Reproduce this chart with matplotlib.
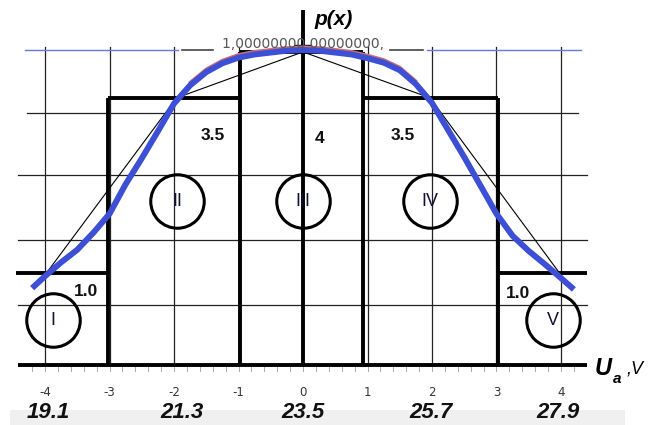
import numpy as np
import matplotlib.pyplot as plt

# bell curve (grid units)
curve_x = [-4.2, -4.0, -3.75, -3.5, -3.25, -3.0, -2.75, -2.5, -2.25, -2.0, -1.75, -1.5,
           -1.25, -1.0, -0.75, -0.5, -0.25, 0.0, 0.25, 0.5, 0.75, 1.0, 1.25, 1.5,
           1.75, 2.0, 2.25, 2.5, 2.75, 3.0, 3.25, 3.5, 3.75, 4.0, 4.2]
curve_y = [1.22, 1.41, 1.63, 1.83, 2.1, 2.4, 2.87, 3.28, 3.71, 4.15, 4.44, 4.65,
           4.79, 4.88, 4.93, 4.96, 4.99, 5.0, 4.99, 4.96, 4.93, 4.87, 4.8, 4.68,
           4.46, 4.16, 3.73, 3.3, 2.85, 2.4, 2.05, 1.81, 1.6, 1.38, 1.2]

# histogram
edges = [-4.45, -3.03, -0.97, 0.93, 3.03, 4.4]
heights = [1.46, 4.24, 4.97, 4.24, 1.46]
bar_text = ['1.0', '3.5', '4', '3.5', '1.0']

# frequency polygon
poly_x = [-3.97, -1.96, 0, 1.97, 3.97]
poly_y = [1.47, 4.24, 4.97, 4.24, 1.47]

# circled interval numbers
circ_x = [-3.88, -1.95, 0.0, 1.97, 3.88]
circ_y = [0.71, 2.6, 2.6, 2.6, 0.71]
circ_lab = ['I', 'II', 'III', 'IV', 'V']

ticks = [-4, -3, -2, -1, 0, 1, 2, 3, 4]
volts = ['19.1', '21.3', '23.5', '25.7', '27.9']
volt_x = [-3.95, -1.87, 0.0, 1.98, 3.95]

fig = plt.figure(figsize=(6.54, 4.25), dpi=100)
ax = fig.add_axes([0, 0, 1, 1])
ax.set_xlim(-4.698, 5.442)
ax.set_ylim(-0.952, 5.794)
ax.axis('off')

# grid
for gy in [0.95, 1.98, 3.02]:
    ax.plot([-4.42, 4.40], [gy, gy], color='#222222', lw=0.9)
ax.plot([-4.28, 4.26], [4.0, 4.0], color='#222222', lw=0.9)
for gx in ticks:
    if gx != 0:
        ax.plot([gx, gx], [0, 5.05], color='#222222', lw=0.9)

# top lines
ax.plot([-4.31, -1.94], [5.0, 5.0], color='#6677dd', lw=1.0)
ax.plot([1.92, 4.31], [5.0, 5.0], color='#6677dd', lw=1.0)
ax.plot([-1.88, -1.40], [5.0, 5.0], color='#444444', lw=1.2)
ax.plot([1.35, 1.86], [5.0, 5.0], color='#444444', lw=1.2)
ax.text(0.0, 4.99, '1,00000000 00000000,', ha='center', va='bottom',
        fontsize=10, color='#555555')

# histogram outline
for i, h in enumerate(heights):
    ax.plot([edges[i], edges[i + 1]], [h, h], color='black', lw=2.8,
            solid_capstyle='butt')
for i in range(1, len(edges) - 1):
    top = max(heights[i - 1], heights[i])
    ax.plot([edges[i], edges[i]], [0, top], color='black', lw=2.8,
            solid_capstyle='butt')

# axes
ax.plot([-4.42, 4.40], [0, 0], color='black', lw=2.8, solid_capstyle='butt')
ax.plot([0, 0], [0, 5.63], color='black', lw=2.8, solid_capstyle='butt')
ax.plot([-0.12, 0.12], [5.08, 5.08], color='black', lw=1.0)

# polygon
ax.plot(poly_x, poly_y, color='black', lw=0.8)

# curve
cx = np.array(curve_x)
cy = np.array(curve_y)
m = np.abs(cx) <= 1.9
ax.plot(cx[m], cy[m] + 0.05, color='#cc7070', lw=2.0)
ax.plot(cx, cy, color='#3d4fd4', lw=4.3, solid_capstyle='butt',
        solid_joinstyle='round')

# circles
ax.plot(circ_x, circ_y, 'o', ms=38.5, mfc='none', mec='black', mew=2.2)
for x, y, s in zip(circ_x, circ_y, circ_lab):
    ax.text(x, y, s, ha='center', va='center', fontsize=13,
            family='Liberation Sans', color='#111133')

# bar values
bar_tx = [-3.36, -1.40, 0.26, 1.55, 3.33]
bar_ty = [1.17, 3.65, 3.6, 3.65, 1.14]
for x, y, s in zip(bar_tx, bar_ty, bar_text):
    ax.text(x, y, s, ha='center', va='center', fontsize=12.5,
            fontweight='bold', family='Liberation Sans', color='#111111')

# ticks
for t in np.arange(-4.2, 4.21, 0.2):
    ax.plot([t, t], [-0.03, -0.09], color='#aaaaaa', lw=0.7)
for t in ticks:
    ax.text(t, -0.43, str(t), ha='center', va='center', fontsize=8.5,
            color='#333333')

# bottom band and voltages
ax.add_patch(plt.Rectangle((-4.54, -0.952), 9.53, 0.24, color='#f0f0f0', lw=0))
for x, s in zip(volt_x, volts):
    ax.text(x, -0.76, s, ha='center', va='center', fontsize=16,
            fontweight='bold', fontstyle='italic', family='Liberation Sans',
            color='#111111')

# axis labels
ax.text(0.47, 5.48, 'p(x)', ha='center', va='center', fontsize=15,
        fontweight='bold', fontstyle='italic', family='Liberation Sans')
ax.text(4.65, -0.05, 'U', ha='center', va='center', fontsize=17,
        fontweight='bold', fontstyle='italic', family='Liberation Sans')
ax.text(4.87, -0.22, 'a', ha='center', va='center', fontsize=11,
        fontweight='bold', fontstyle='italic', family='Liberation Sans')
ax.text(5.15, -0.07, ',V', ha='center', va='center', fontsize=13,
        fontstyle='italic', family='Liberation Sans')

fig.savefig('out.png', dpi=100)
